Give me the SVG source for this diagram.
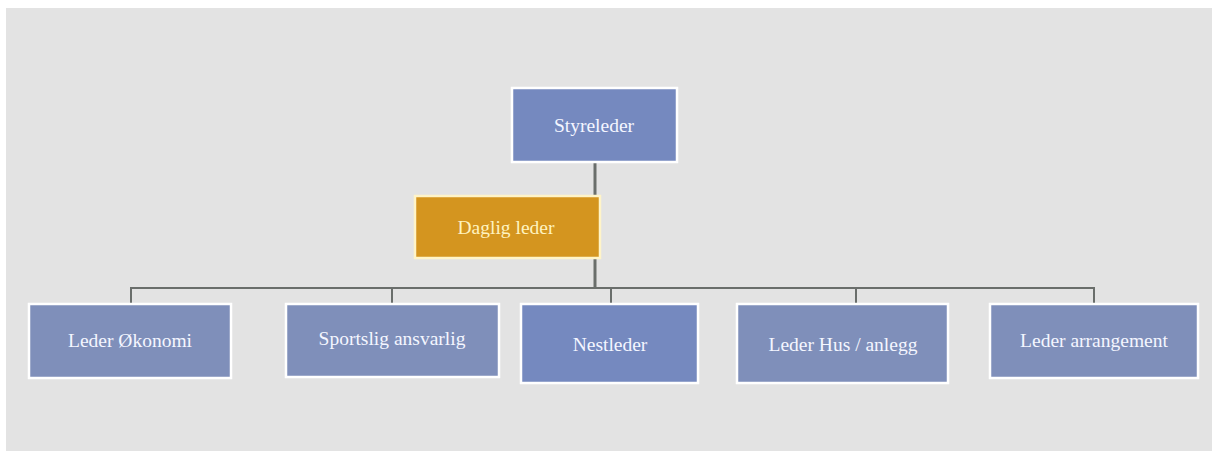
<svg xmlns="http://www.w3.org/2000/svg" width="1212" height="451" viewBox="0 0 1212 451">
<style>
.box{stroke:#ffffff;stroke-width:2.5}
.blue{fill:#7f8fba}
.blue2{fill:#7589bf}
.gold{fill:#d4951f;stroke:#fff4c8;stroke-width:2.5}
.t{font-family:'Liberation Serif','DejaVu Serif',serif;font-size:19.5px;fill:#f4f6ff;text-anchor:middle}
.ty{fill:#fff3c0}
.c{fill:none;stroke:#6a6e6b;stroke-width:2}
</style>
<rect x="0" y="0" width="1212" height="451" fill="#ffffff"/>
<rect x="6" y="8" width="1206" height="443" fill="#e3e3e3"/>
<g id="connectors">
<path class="c" d="M595 162 V288" style="stroke-width:3"/>
<path class="c" d="M131 304 V288 H1094 V304"/>
<path class="c" d="M392 288 V304 M611 288 V304 M856 288 V304"/>
</g>
<g id="styreleder"><rect class="box blue2" x="512" y="88" width="165" height="74"/><text class="t" x="594" y="132">Styreleder</text></g>
<g id="daglig-leder"><rect class="gold" x="415" y="196" width="185" height="62"/><text class="t ty" x="506" y="234">Daglig leder</text></g>
<g id="leder-okonomi"><rect class="box blue" x="29" y="304" width="202" height="74"/><text class="t" x="130" y="347">Leder Økonomi</text></g>
<g id="sportslig"><rect class="box blue" x="286" y="304" width="213" height="73"/><text class="t" x="392" y="345">Sportslig ansvarlig</text></g>
<g id="nestleder"><rect class="box blue2" x="521" y="304" width="177" height="79"/><text class="t" x="610" y="351">Nestleder</text></g>
<g id="leder-hus"><rect class="box blue" x="737" y="304" width="211" height="79"/><text class="t" x="843" y="351">Leder Hus / anlegg</text></g>
<g id="leder-arrangement"><rect class="box blue" x="990" y="304" width="208" height="74"/><text class="t" x="1094" y="347">Leder arrangement</text></g>
</svg>
